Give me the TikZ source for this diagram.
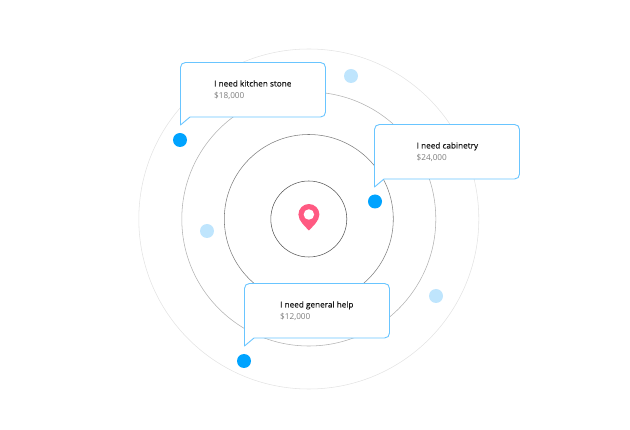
\documentclass[tikz,border=0pt]{standalone}
\usepackage{fontspec}
\setmainfont{Open Sans}
\newfontfamily\headfont[FakeBold=0.25]{Open Sans}
\definecolor{bubbleblue}{RGB}{105,197,255}
\definecolor{dotblue}{RGB}{0,163,255}
\definecolor{dotlight}{RGB}{191,229,253}
\definecolor{pinred}{RGB}{255,90,130}
\definecolor{pricegray}{RGB}{125,125,125}
\tikzset{ring/.style={draw=#1,line width=0.55pt,fill=none}}
\tikzset{dot/.style={circle,fill=dotblue,minimum size=14pt,inner sep=0pt,outer sep=0pt}}
\tikzset{ghost/.style={dot,fill=dotlight}}
\tikzset{bubble/.style={draw=bubbleblue,fill=white,line width=0.9pt,line join=round}}
\tikzset{title/.style={anchor=base west,inner sep=0pt,font=\headfont\fontsize{8.2}{10}\selectfont,text=black!90}}
\tikzset{price/.style={anchor=base west,inner sep=0pt,font=\fontsize{8.2}{10}\selectfont,text=pricegray}}
\begin{document}
\begin{tikzpicture}[x=1pt,y=-1pt]
  \useasboundingbox (0,0) rectangle (630,430);
  \coordinate (O) at (308.8,219);

  % Rings
  \draw[ring=black!65] (O) circle (38);
  \draw[ring=black!50] (O) circle (84.5);
  \draw[ring=black!30] (O) circle (127);
  \draw[ring=black!11] (O) circle (170);

  % Dots
  \node[ghost] (far1) at (351,76) {};
  \node[ghost] (far2) at (207,231) {};
  \node[ghost] (far3) at (436,296) {};
  \node[dot] (near1) at (180,140) {};
  \node[dot] (near2) at (375,201.5) {};
  \node[dot] (near3) at (244,361) {};

  % Pin
  \fill[pinred] (298.4,214.5) arc[start angle=180,end angle=360,radius=10.5]
    .. controls (319.4,221) and (312.5,226.5) .. (308.9,230.5)
    .. controls (305.3,226.5) and (298.4,221) .. (298.4,214.5) -- cycle;
  \node[circle,fill=white,minimum size=10.5pt,inner sep=0pt] (pin) at (308.9,214.5) {};

  % Bubbles
  \foreach \x/\y/\off/\name/\txt/\cost in {180.5/62.5/33.5/kitchen/I need kitchen stone/{\$18,000},
      374.5/124.5/42/cabinet/I need cabinetry/{\$24,000},
      244.5/283.5/35.5/general/I need general help/{\$12,000}}
  {
    \begin{scope}[shift={(\x,\y)}]
      \draw[bubble] (0,62.5) -- (0,5)
        .. controls (0,2) and (2,0) .. (5,0) -- (140,0)
        .. controls (143,0) and (145,2) .. (145,5) -- (145,49.5)
        .. controls (145,52.5) and (143,54.5) .. (140,54.5) -- (9.5,54.5) -- cycle;
      \node[title] (\name) at (\off,24) {\txt};
      \node[price] (\name cost) at (\off,36) {\cost};
    \end{scope}
  }
\end{tikzpicture}
\end{document}
